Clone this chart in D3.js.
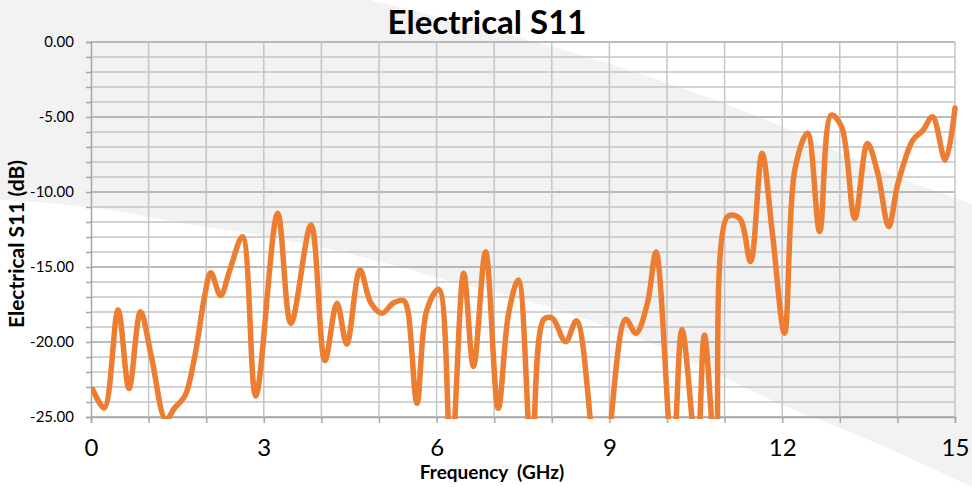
<!DOCTYPE html>
<html>
<head>
<meta charset="utf-8">
<script src="https://cdn.jsdelivr.net/npm/d3@7"></script>
<style>
  html, body { margin: 0; padding: 0; background: #ffffff; }
  svg { display: block; }
  text { font-family: Lato, "Open Sans", sans-serif; }
</style>
</head>
<body>
<svg id="chart" width="972" height="487"></svg>
<script>
// ---- data ----
const frequency = [0.03,0.23,0.47,0.66,0.86,1.05,1.30,1.45,1.63,1.80,1.97,2.08,2.25,2.41,2.63,2.86,3.24,3.47,3.82,4.06,4.27,4.44,4.67,4.86,5.05,5.25,5.43,5.50,5.66,5.83,6.04,6.25,6.47,6.64,6.85,7.07,7.25,7.42,7.65,7.86,8.01,8.24,8.43,8.85,9.28,9.46,9.66,9.81,10.10,10.26,10.52,10.65,10.85,11.05,11.26,11.45,11.65,11.83,12.04,12.22,12.44,12.65,12.85,13.03,13.26,13.48,13.66,13.85,14.01,14.27,14.44,14.61,14.83,15.0];
const s11 = [-23.15,-24.4,-17.87,-23.1,-17.98,-21.0,-25.2,-24.4,-23.6,-21.0,-17.0,-15.38,-16.9,-15.2,-12.98,-23.6,-11.42,-18.76,-12.2,-21.24,-17.42,-20.13,-15.2,-17.4,-18.09,-17.4,-17.24,-17.9,-24.09,-17.87,-16.49,-28.0,-15.42,-21.64,-13.98,-24.42,-18.09,-15.87,-27.5,-18.5,-18.42,-19.98,-18.58,-30.0,-18.49,-19.42,-17.42,-14.0,-28.0,-19.16,-27.5,-19.53,-28.0,-11.64,-11.76,-14.64,-7.42,-12.76,-19.42,-8.5,-6.09,-12.64,-4.87,-5.64,-11.76,-6.76,-8.76,-12.31,-9.42,-6.53,-5.91,-4.98,-7.87,-4.4];
const xTickLabels = [0, 3, 6, 9, 12, 15];
const yTickLabels = [0, -5, -10, -15, -20, -25];
const title = "Electrical S11";
const xTitle = "Frequency  (GHz)";
const yTitle = "Electrical S11 (dB)";

// decorative background band edges (page pixels)
const bandUpper = [[370,0],[650,77],[723,103],[783,127],[840,153],[897,177],[953,197],[972,204]];
const bandLower = [[0,200],[88,207],[200,226],[235,231],[310,245],[378,261],[465,285],[514,297],[650,343],[804,414],[840,428],[972,487]];

// ---- layout ----
const svg = d3.select("#chart");
const x = d3.scaleLinear().domain([0, 15]).range([91, 955]);
const y = d3.scaleLinear().domain([-25, 0]).range([417, 42]);

// background band
const edge = d3.line().curve(d3.curveMonotoneX);
const bandD = "M0,0 " + edge(bandUpper).replace(/^M/, "L") + " L972,487 " +
  edge(bandLower.slice().reverse()).replace(/^M/, "L") + " Z";
svg.append("path").attr("d", bandD).attr("fill", "#f2f2f2");

// gridlines
const g = svg.append("g");
const yMinor = d3.range(-25, 1, 1);
g.selectAll("line.hy").data(yMinor).enter().append("line")
  .attr("x1", x(0)).attr("x2", x(15))
  .attr("y1", d => y(d)).attr("y2", d => y(d))
  .attr("stroke", d => d % 5 === 0 ? "#a6a6a6" : "#c4c4c4")
  .attr("stroke-width", 1.5);
const xGrid = d3.range(1, 16, 1);
g.selectAll("line.vx").data(xGrid).enter().append("line")
  .attr("x1", d => x(d)).attr("x2", d => x(d))
  .attr("y1", y(0)).attr("y2", y(-25))
  .attr("stroke", "#c4c4c4").attr("stroke-width", 1.5);

// axes
const yAxis = d3.axisLeft(y).tickValues(yMinor).tickSize(5)
  .tickFormat(d => yTickLabels.includes(d) ? d3.format(".2f")(d).replace("\u2212", "-") : "");
const ya = svg.append("g").attr("transform", `translate(${x(0)},0)`).call(yAxis);
ya.select(".domain").attr("stroke", "#a6a6a6").attr("stroke-width", 1.5);
ya.selectAll(".tick line").attr("stroke", "#a6a6a6").attr("stroke-width", 1.5);
ya.selectAll(".tick text").attr("font-size", 15).attr("fill", "#000").attr("x", -17)
  .attr("font-family", "Lato, sans-serif");

const xAxis = d3.axisBottom(x).tickValues(d3.range(0, 16, 1)).tickSize(6)
  .tickFormat(d => xTickLabels.includes(d) ? String(d) : "");
const xa = svg.append("g").attr("transform", `translate(0,${y(-25)})`).call(xAxis);
xa.select(".domain").attr("stroke", "#a6a6a6").attr("stroke-width", 1.5);
xa.selectAll(".tick line").attr("stroke", "#a6a6a6").attr("stroke-width", 1.5);
xa.selectAll(".tick text").attr("font-size", 24).attr("fill", "#000").attr("y", 22)
  .attr("font-family", "Lato, sans-serif");

// clip
svg.append("clipPath").attr("id", "plotclip").append("rect")
  .attr("x", x(0)).attr("y", y(0) - 10).attr("width", x(15) - x(0) + 6).attr("height", y(-25) - y(0) + 12);

// line
const data = frequency.map((f, i) => [f, s11[i]]);
const line = d3.line().x(d => x(d[0])).y(d => y(d[1])).curve(d3.curveCatmullRom.alpha(0.5));
svg.append("path").datum(data)
  .attr("clip-path", "url(#plotclip)")
  .attr("d", line)
  .attr("fill", "none")
  .attr("stroke", "#ED7D31")
  .attr("stroke-width", 5.5)
  .attr("stroke-linejoin", "round")
  .attr("stroke-linecap", "round");

// titles
svg.append("text").attr("x", 487).attr("y", 34).attr("text-anchor", "middle")
  .attr("font-size", 33).attr("font-weight", "bold").attr("fill", "#000").text(title);
svg.append("text").attr("x", 492).attr("y", 479).attr("text-anchor", "middle")
  .attr("font-size", 19).attr("font-weight", "bold").attr("fill", "#000")
  .style("white-space", "pre").text(xTitle);
svg.append("text").attr("transform", "translate(24,244) rotate(-90)").attr("text-anchor", "middle")
  .attr("font-size", 21).attr("font-weight", "bold").attr("fill", "#000").text(yTitle);
</script>
</body>
</html>
